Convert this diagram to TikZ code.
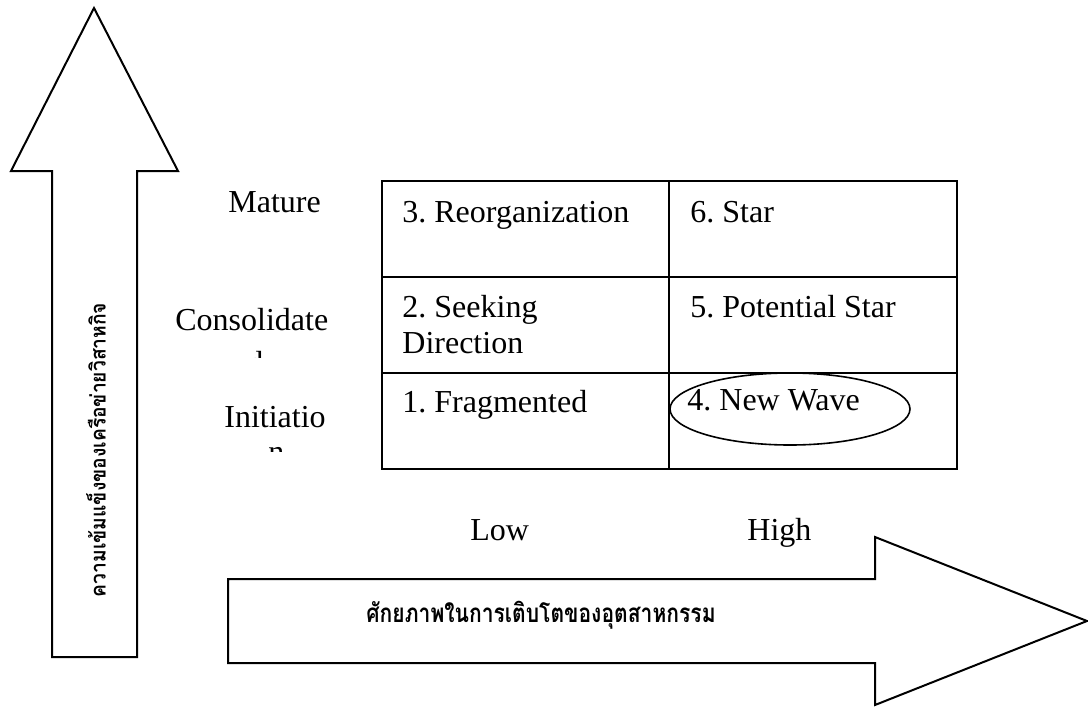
\documentclass[tikz,border=0pt]{standalone}
\usepackage{graphicx}
\usepackage{fontspec}
\setmainfont{Liberation Serif}
\newfontfamily\thaifont[Script=Thai]{Loma}
\frenchspacing
\begin{document}
\begin{tikzpicture}[x=0.5pt,y=-0.5pt,
  shapeline/.style={draw=black, line width=1pt, line join=miter},
  gridline/.style={draw=black, line width=1pt},
  lbl/.style={inner sep=0pt, anchor=base west, font=\fontsize{16}{19}\selectfont},
  thaitext/.style={inner sep=0pt, font=\thaifont\bfseries}]
\useasboundingbox (0,0) rectangle (1088,707);
% vertical arrow
\draw[shapeline] (52,657) -- (52,171) -- (11,171) -- (94,8) -- (178,171) -- (137,171) -- (137,657) -- cycle;
% horizontal arrow
\draw[shapeline] (228,579) -- (875,579) -- (875,537) -- (1087,621) -- (875,705) -- (875,663) -- (228,663) -- cycle;
\node[thaitext, rotate=90] (vtext) at (96,450) {\fontsize{10.5}{12}\selectfont\scalebox{0.917}[1]{ความเข้มแข็งของเครือข่ายวิสาหกิจ}};
\node[thaitext] (htext) at (541,615) {\fontsize{13}{15}\selectfont\scalebox{0.81}[1]{ศักยภาพในการเติบโตของอุตสาหกรรม}};
% table
\draw[gridline] (382,181) rectangle (957,469);
\draw[gridline] (382,277) -- (957,277);
\draw[gridline] (382,373) -- (957,373);
\draw[gridline] (669,181) -- (669,469);
\draw[line width=0.8pt] (790,409) ellipse [x radius=60pt, y radius=18pt];
% cell texts
\node[lbl] (c3) at (402,222) {3. Reorganization};
\node[lbl] (c6) at (690,222) {6. Star};
\node[lbl] (c2) at (402,317) {2. Seeking};
\node[lbl] (c2b) at (402,353) {Direction};
\node[lbl] (c5) at (690,317) {5. Potential Star};
\node[lbl] (c1) at (402,412) {1. Fragmented};
\node[lbl] (c4) at (687,410) {4. New Wave};
% row labels
\node[lbl] (mature) at (228,212) {Mature};
\node[lbl] (consol) at (175,330) {Consolidate};
\node[lbl] (init) at (224,427) {Initiatio};
\begin{scope}
\clip (240,340) rectangle (262,357);
\node[lbl] (consold) at (247,373) {d};
\end{scope}
\begin{scope}
\clip (260,440) rectangle (290,451);
\node[lbl] (initn) at (268,462) {n};
\end{scope}
% column labels
\node[lbl] (low) at (470,540) {Low};
\node[lbl] (high) at (747,540) {High};
\end{tikzpicture}
\end{document}
